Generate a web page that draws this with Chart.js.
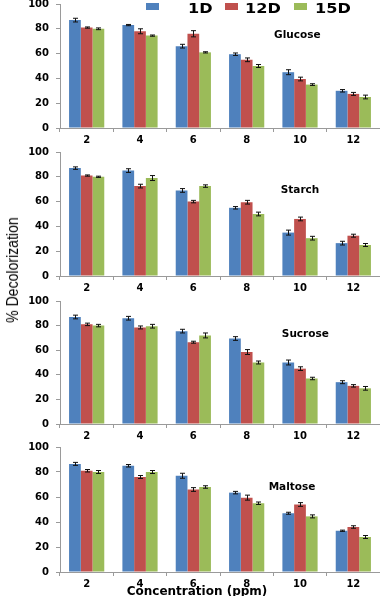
<!DOCTYPE html>
<html>
<head>
<meta charset="utf-8">
<script src="https://cdn.jsdelivr.net/npm/chart.js@4/dist/chart.umd.min.js"></script>
<style>
  html, body { margin:0; padding:0; background:#fff; }
  #wrap { position:relative; width:386px; height:596px; overflow:hidden; background:#fff; }
  canvas { position:absolute; left:0; z-index:1; }
  .leg { position:absolute; z-index:5; font-family:"DejaVu Sans", sans-serif; font-weight:bold; font-size:14px; color:#000; line-height:14px; top:1px;
         transform-origin:0 0; transform:scaleX(1.15); white-space:nowrap; }
  .box { position:absolute; z-index:5; width:13px; height:7px; top:3px; }
  #ytitle { position:absolute; z-index:5; font-family:"Liberation Sans Narrow","Liberation Sans",sans-serif; font-size:16px; color:#000; white-space:nowrap;
            left:13px; top:270px; transform:translate(-50%,-50%) rotate(-90deg) scale(0.88,1); }
  #xtitle { position:absolute; z-index:5; font-family:"DejaVu Sans",sans-serif; font-weight:bold; font-size:12px; color:#000; white-space:nowrap;
            left:197px; top:591px; transform:translate(-50%,-50%); }
</style>
</head>
<body>
<div id="wrap">
  <canvas id="c1"></canvas>
  <canvas id="c2"></canvas>
  <canvas id="c3"></canvas>
  <canvas id="c4"></canvas>
  <div class="box" style="left:146px;background:#4F81BD"></div>
  <div class="leg" style="left:188px">1D</div>
  <div class="box" style="left:225px;background:#C0504D"></div>
  <div class="leg" style="left:245px">12D</div>
  <div class="box" style="left:294px;background:#9BBB59"></div>
  <div class="leg" style="left:315px">15D</div>
  <div id="ytitle">% Decolorization</div>
  <div id="xtitle">Concentration (ppm)</div>
</div>
<script>
// ---- data ----
const categories = ['2', '4', '6', '8', '10', '12'];
const seriesNames = ['1D', '12D', '15D'];
const yTicks = [0, 20, 40, 60, 80, 100];

const glucose1D  = [87, 83, 66, 59.5, 45, 30];
const glucose12D = [81, 78, 76, 55, 39.5, 27.5];
const glucose15D = [80, 74.5, 61, 50, 35, 25];
const glucoseErr1D  = [1.5, 0.5, 1.5, 1, 2, 1];
const glucoseErr12D = [0.5, 2, 2.5, 1.5, 1.5, 1.2];
const glucoseErr15D = [0.7, 0.5, 0.5, 1.2, 0.7, 1.5];

const starch1D  = [87, 85, 69, 55, 35, 26.5];
const starch12D = [81, 72.5, 60, 59.5, 46, 32.5];
const starch15D = [80, 79, 72.5, 50, 30.5, 25];
const starchErr1D  = [1, 1.5, 1.5, 1, 2, 1.5];
const starchErr12D = [0.5, 1.5, 1, 1.5, 1.5, 1.2];
const starchErr15D = [0.5, 2, 1, 1.5, 1.5, 1.2];

const sucrose1D  = [87, 86, 75.5, 69.5, 50, 34];
const sucrose12D = [81, 78.5, 66.5, 58.5, 45, 31];
const sucrose15D = [80, 79.5, 72, 50, 37, 29];
const sucroseErr1D  = [1.5, 1.5, 1.5, 1.5, 2, 1.2];
const sucroseErr12D = [1, 1.2, 0.8, 2, 1.5, 1];
const sucroseErr15D = [1, 1.5, 2, 1.2, 1, 1.5];

const maltose1D  = [86.5, 85, 77, 63.5, 47, 33];
const maltose12D = [81, 76, 66, 59.5, 54, 36];
const maltose15D = [80, 80, 68, 55, 44.5, 28];
const maltoseErr1D  = [1.2, 1, 2, 1, 0.8, 0.5];
const maltoseErr12D = [1, 1.2, 1.5, 2, 1.5, 1];
const maltoseErr15D = [1.2, 1.2, 1, 1, 1.2, 1.2];

// ---- styles ----
const colors = ['#4F81BD', '#C0504D', '#9BBB59'];
const axisColor = '#9a9a9a';
const tickFont = { family: 'DejaVu Sans', weight: 'bold', size: 10 };

const errorBars = {
  id: 'errorBars',
  afterDatasetsDraw(chart) {
    const ctx = chart.ctx, y = chart.scales.y;
    chart.data.datasets.forEach((ds, i) => {
      const meta = chart.getDatasetMeta(i);
      meta.data.forEach((bar, j) => {
        const v = ds.data[j], e = ds.errors[j];
        const x = Math.round(bar.x) + 0.5;
        const t = y.getPixelForValue(v + e), b = y.getPixelForValue(v - e);
        ctx.save();
        ctx.strokeStyle = '#111';
        ctx.lineWidth = 1;
        ctx.beginPath();
        ctx.moveTo(x, t); ctx.lineTo(x, b);
        ctx.moveTo(x - 2.5, t); ctx.lineTo(x + 2.5, t);
        ctx.moveTo(x - 2.5, b); ctx.lineTo(x + 2.5, b);
        ctx.stroke();
        ctx.restore();
      });
    });
  }
};

const panelLabel = {
  id: 'panelLabel',
  afterDraw(chart, args, opts) {
    const ctx = chart.ctx;
    const px = chart.scales.x.getPixelForValue(opts.at);
    const py = chart.scales.y.getPixelForValue(opts.value);
    ctx.save();
    ctx.font = 'bold 10.5px "DejaVu Sans"';
    ctx.fillStyle = '#000';
    ctx.textAlign = 'center';
    ctx.textBaseline = 'middle';
    ctx.fillText(opts.text, px, py);
    ctx.restore();
  }
};

function makePanel(id, top, areaH, vals, errs, name, at, value) {
  const cv = document.getElementById(id);
  const padTop = 14, axisH = 20;
  cv.width = 380; cv.height = padTop + areaH + axisH;
  cv.style.top = (top - padTop) + 'px';
  new Chart(cv.getContext('2d'), {
    type: 'bar',
    data: {
      labels: categories,
      datasets: seriesNames.map((s, i) => ({
        label: s, data: vals[i], errors: errs[i],
        backgroundColor: colors[i], borderWidth: 0
      }))
    },
    options: {
      responsive: false, animation: false, devicePixelRatio: 1,
      datasets: { bar: { categoryPercentage: 0.66, barPercentage: 1 } },
      layout: { padding: { top: padTop, right: 0, left: 0, bottom: 0 } },
      plugins: {
        legend: { display: false }, tooltip: { enabled: false },
        panelLabel: { text: name, at: at, value: value }
      },
      scales: {
        x: {
          grid: { drawOnChartArea: false, offset: true, tickLength: 4, color: axisColor },
          border: { color: axisColor },
          ticks: { font: tickFont, color: '#000', padding: 2, maxRotation: 0 },
          afterFit(s) { s.height = axisH; }
        },
        y: {
          min: 0, max: 100,
          afterBuildTicks(s) { s.ticks = yTicks.map(v => ({ value: v })); },
          grid: { drawOnChartArea: false, tickLength: 4, color: axisColor },
          border: { color: axisColor },
          ticks: { font: tickFont, color: '#000', padding: 7 },
          afterFit(s) { s.width = 60; }
        }
      }
    },
    plugins: [errorBars, panelLabel]
  });
}

makePanel('c1', 4, 124, [glucose1D, glucose12D, glucose15D], [glucoseErr1D, glucoseErr12D, glucoseErr15D], 'Glucose', 3.95, 75);
makePanel('c2', 152, 124, [starch1D, starch12D, starch15D], [starchErr1D, starchErr12D, starchErr15D], 'Starch', 4.0, 69);
makePanel('c3', 301, 123, [sucrose1D, sucrose12D, sucrose15D], [sucroseErr1D, sucroseErr12D, sucroseErr15D], 'Sucrose', 4.1, 73);
makePanel('c4', 447, 125, [maltose1D, maltose12D, maltose15D], [maltoseErr1D, maltoseErr12D, maltoseErr15D], 'Maltose', 3.85, 68);
</script>
</body>
</html>
